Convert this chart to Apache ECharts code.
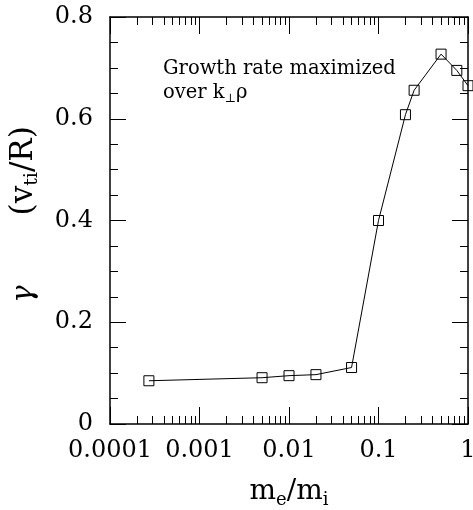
<!DOCTYPE html>
<html>
<head>
<meta charset="utf-8">
<script src="https://cdn.jsdelivr.net/npm/echarts@6/dist/echarts.min.js"></script>
<style>
  html, body { margin: 0; padding: 0; background: #fff; }
  #main { width: 473px; height: 510px; }
</style>
</head>
<body>
<div id="main"></div>
<script>
// mass ratio m_e/m_i and growth rate gamma (v_ti/R)
const massRatio = [0.000272, 0.005, 0.01, 0.02, 0.05, 0.1, 0.2, 0.25, 0.5, 0.75, 1];
const gamma = [0.085, 0.091, 0.095, 0.097, 0.111, 0.40, 0.608, 0.656, 0.727, 0.695, 0.665];

// axis ticks
const xMajor = [0.0001, 0.001, 0.01, 0.1, 1];
const xTickLabels = ['0.0001', '0.001', '0.01', '0.1', '1'];
const xMinorMult = [2, 3, 4, 5, 6, 7, 8, 9];
const yTickLabels = ['0', '0.2', '0.4', '0.6', '0.8'];

const FONT = 'DejaVu Serif';

let xMinor = [];
xMajor.slice(0, -1).forEach(function (d) {
  xMinorMult.forEach(function (k) { xMinor.push(+(d * k).toPrecision(3)); });
});

let points = massRatio.map(function (x, i) { return [x, gamma[i]]; });

function xAxisPart(pos, major, withLabels) {
  return {
    type: 'log',
    logBase: 10,
    position: pos,
    min: 0.0001,
    max: 1,
    axisLine: { show: true, onZero: false, lineStyle: { color: major ? '#000' : 'rgba(0,0,0,0)', width: 1.5 } },
    axisTick: {
      show: true,
      inside: true,
      length: major ? 17 : 8,
      customValues: major ? xMajor : xMinor,
      lineStyle: { color: '#000', width: 1 }
    },
    axisLabel: withLabels ? {
      customValues: xMajor,
      margin: 15,
      fontFamily: FONT,
      fontSize: 24,
      color: '#000',
      formatter: function (v) {
        return xTickLabels[Math.round(Math.log10(v)) + 4];
      }
    } : { show: false },
    splitLine: { show: false },
    minorTick: { show: false },
    minorSplitLine: { show: false }
  };
}

function yAxisPart(pos, withLabels) {
  return {
    type: 'value',
    position: pos,
    min: 0,
    max: 0.8,
    interval: 0.2,
    axisLine: { show: true, onZero: false, lineStyle: { color: '#000', width: 1.5 } },
    axisTick: { show: true, inside: true, length: 16, lineStyle: { color: '#000', width: 1 } },
    minorTick: { show: true, splitNumber: 4, length: 8, lineStyle: { color: '#000', width: 1 } },
    axisLabel: withLabels ? {
      margin: 17,
      fontFamily: FONT,
      fontSize: 24,
      color: '#000',
      formatter: function (v) { return yTickLabels[Math.round(v / 0.2)]; }
    } : { show: false },
    splitLine: { show: false }
  };
}

let myChart = echarts.init(document.getElementById('main'));

let xBottom = xAxisPart('bottom', true, true);
xBottom.name = 'm{sub|e}/m{sub|i}';
xBottom.nameLocation = 'middle';
xBottom.nameGap = 51;
xBottom.nameTextStyle = {
  fontFamily: FONT, fontSize: 28, color: '#000', lineHeight: 34,
  rich: { sub: { fontFamily: FONT, fontSize: 18, lineHeight: 16, verticalAlign: 'bottom', color: '#000' } }
};

let yLeft = yAxisPart('left', true);
yLeft.name = '{g|γ}(v{sub|ti}/R)';
yLeft.nameLocation = 'middle';
yLeft.nameGap = 68;
yLeft.nameTextStyle = {
  fontFamily: FONT, fontSize: 31, color: '#000', lineHeight: 36,
  rich: {
    g: { fontFamily: FONT, fontSize: 29, fontStyle: 'italic', lineHeight: 36, color: '#000', padding: [0, 70, 0, 12] },
    sub: { fontFamily: FONT, fontSize: 19, lineHeight: 17, verticalAlign: 'bottom', color: '#000' }
  }
};

let option = {
  animation: false,
  backgroundColor: '#fff',
  grid: { left: 110, right: 5, top: 17, bottom: 86, containLabel: false, outerBoundsMode: 'none' },
  xAxis: [
    xBottom,
    xAxisPart('bottom', false, false),
    xAxisPart('top', true, false),
    xAxisPart('top', false, false)
  ],
  yAxis: [
    yLeft,
    yAxisPart('right', false)
  ],
  graphic: [{
    type: 'text',
    left: 163,
    top: 57,
    style: {
      text: 'Growth rate maximized\nover k{sub|⊥}ρ',
      fontFamily: FONT,
      fontSize: 19.5,
      lineHeight: 24,
      fill: '#000',
      rich: {
        sub: { fontFamily: FONT, fontSize: 12, lineHeight: 12, verticalAlign: 'bottom', fill: '#000' }
      }
    }
  }],
  series: [{
    type: 'line',
    xAxisIndex: 0,
    yAxisIndex: 0,
    data: points,
    symbol: 'rect',
    symbolSize: 10,
    showAllSymbol: true,
    clip: false,
    lineStyle: { color: '#000', width: 1 },
    itemStyle: { color: 'rgba(0,0,0,0)', borderColor: '#000', borderWidth: 1 }
  }]
};

myChart.setOption(option);
</script>
</body>
</html>
